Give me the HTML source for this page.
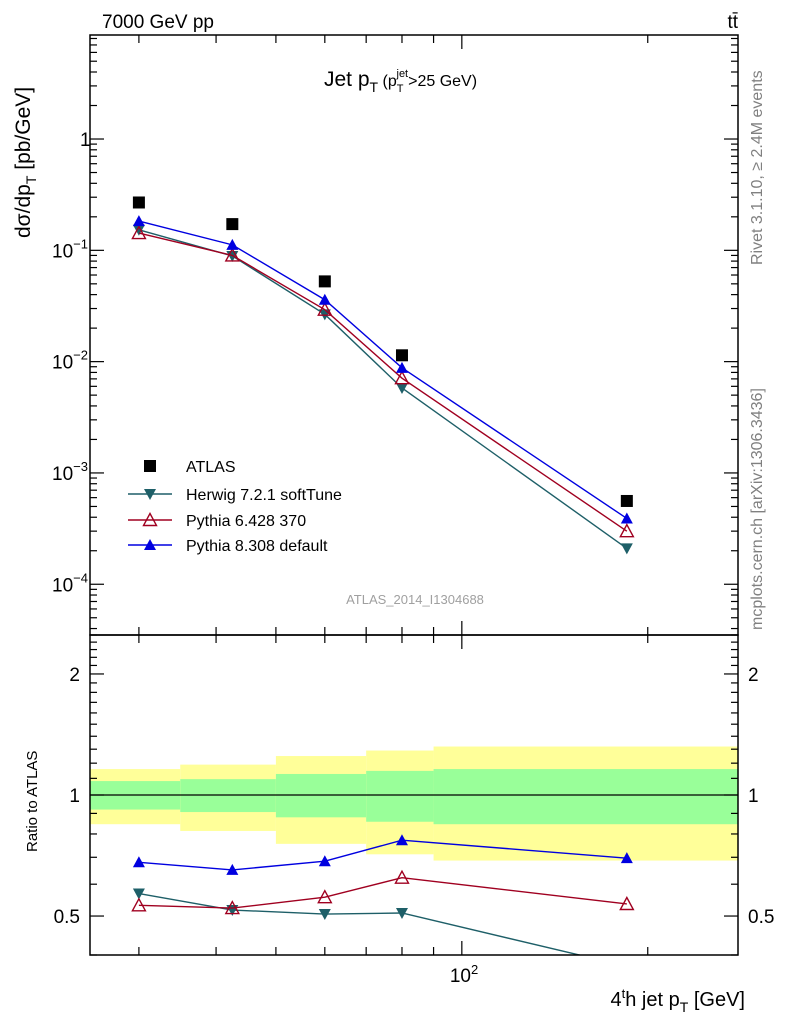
<!DOCTYPE html>
<html><head><meta charset="utf-8"><style>
html,body{margin:0;padding:0;background:#fff}
svg{display:block;font-family:"Liberation Sans",Arial,sans-serif}
</style></head><body>
<svg id="c" width="786" height="1024" viewBox="0 0 786 1024" xmlns="http://www.w3.org/2000/svg">
<g id="bands"></g>
<g id="grid"></g>
<g id="series"></g>
<rect x="90" y="35" width="648" height="600" fill="none" stroke="#000" stroke-width="1.5"/>
<rect x="90" y="635" width="648" height="320" fill="none" stroke="#000" stroke-width="1.5"/>
<text x="102" y="28" font-size="19">7000 GeV pp</text>
<text x="738" y="28" font-size="19" text-anchor="end">tt̄</text>
<text x="324" y="86" font-size="21">Jet p<tspan font-size="14" dy="6">T</tspan><tspan font-size="16" dy="-6"> (p</tspan><tspan font-size="11" dy="6">T</tspan><tspan font-size="11" dx="-7" dy="-15">jet</tspan><tspan font-size="16" dy="9">&gt;25 GeV)</tspan></text>
<text transform="translate(30,238) rotate(-90)" font-size="21">dσ/dp<tspan font-size="14" dy="6">T</tspan><tspan dy="-6"> [pb/GeV]</tspan></text>
<text transform="translate(37,852) rotate(-90)" font-size="15">Ratio to ATLAS</text>
<text x="745" y="1006" font-size="20" text-anchor="end">4<tspan font-size="13" dy="-8">t</tspan><tspan dy="8">h jet p</tspan><tspan font-size="14" dy="6">T</tspan><tspan dy="-6"> [GeV]</tspan></text>
<text transform="translate(762,265) rotate(-90)" font-size="16" fill="#808080">Rivet 3.1.10, ≥ 2.4M events</text>
<text transform="translate(762,630) rotate(-90)" font-size="16" fill="#808080">mcplots.cern.ch [arXiv:1306.3436]</text>
<text x="415" y="604" font-size="13" fill="#a0a0a0" text-anchor="middle">ATLAS_2014_I1304688</text>
<g id="legend"></g>
</svg>
<script>
const binEdges=[25,35,50,70,90,280];
const xCenters=[30,42.5,60,80,185];
const atlas=[0.269,0.172,0.0526,0.0114,0.00056];
const herwig=[0.153,0.089,0.0266,0.0058,0.00021];
const pythia6=[0.143,0.090,0.0293,0.0071,0.00030];
const pythia8=[0.183,0.112,0.036,0.0088,0.00039];
const statUp=[1.083,1.095,1.128,1.148,1.16];
const statDn=[0.92,0.907,0.88,0.858,0.846];
const totUp=[1.16,1.19,1.25,1.29,1.32];
const totDn=[0.846,0.814,0.756,0.712,0.687];
const mainTicks=[1,0.1,0.01,0.001,0.0001];
const mainTickLabels=[["1",""],["10","−1"],["10","−2"],["10","−3"],["10","−4"]];
const ratioTicks=[0.5,1,2];
const ratioTickLabels=["0.5","1","2"];

const NS="http://www.w3.org/2000/svg";
const X0=90,X1=738,xmin=25,xmax=280;
const sx=v=>X0+(X1-X0)*Math.log10(v/xmin)/Math.log10(xmax/xmin);
const MT=35,MB=635,ymax=8.6,ymin=3.5e-5;
const sy=v=>MT+(MB-MT)*Math.log10(ymax/v)/Math.log10(ymax/ymin);
const RT=635,RB=955,rmax=2.5,rmin=0.4;
const ry=v=>RT+(RB-RT)*Math.log10(rmax/v)/Math.log10(rmax/rmin);
function mk(tag,at,parent){const e=document.createElementNS(NS,tag);for(const k in at)e.setAttribute(k,at[k]);parent.appendChild(e);return e;}
const bands=document.getElementById('bands'),grid=document.getElementById('grid'),ser=document.getElementById('series'),leg=document.getElementById('legend');

for(let i=0;i<xCenters.length;i++){
  const xa=sx(binEdges[i]),xb=sx(binEdges[i+1]);
  let r=mk('rect',{x:xa,y:ry(totUp[i]),width:xb-xa,height:ry(totDn[i])-ry(totUp[i]),fill:'#ffff99'},bands);
  
  
  r=mk('rect',{x:xa,y:ry(statUp[i]),width:xb-xa,height:ry(statDn[i])-ry(statUp[i]),fill:'#99ff99'},bands);
  
  
}
mk('line',{x1:X0,x2:X1,y1:ry(1),y2:ry(1),stroke:'#000','stroke-width':1.2},grid);

const xt=[30,40,50,60,70,80,90,100,200];
xt.forEach(d=>{
  const x=sx(d),big=(d===100);
  const L=big?14:8;
  for(const [yb,yt] of [[MB,MT],[RB,RT]]){
    mk('line',{x1:x,x2:x,y1:yb,y2:yb-L,stroke:'#000','stroke-width':1.2},grid);
    mk('line',{x1:x,x2:x,y1:yt,y2:yt+L,stroke:'#000','stroke-width':1.2},grid);
  }
});
let t=mk('text',{x:sx(100)-12,y:982,'font-size':19},grid);
t.textContent='10';


t=mk('tspan',{'font-size':13,dy:-8},t);t.textContent='2';

for(let e=-5;e<=0;e++){
  for(let m=1;m<=9;m++){
    const v=m*Math.pow(10,e);
    if(v<ymin||v>ymax)continue;
    const y=sy(v),L=m===1?14:7;
    mk('line',{x1:X0,x2:X0+L,y1:y,y2:y,stroke:'#000','stroke-width':1.2},grid);
    mk('line',{x1:X1,x2:X1-L,y1:y,y2:y,stroke:'#000','stroke-width':1.2},grid);
  }
}
mainTicks.forEach((v,i)=>{
  const y=sy(v);
  const tt=mk('text',{x:i===0?80:52,y:y+7,'font-size':19,'text-anchor':'start'},grid);
  
  
  tt.textContent=mainTickLabels[i][0];
  if(mainTickLabels[i][1]){const s=mk('tspan',{'font-size':13,dy:-9},tt);s.textContent=mainTickLabels[i][1];}
});
for(let v=0.4;v<=2.5001;v+=0.1){
  const vv=Math.round(v*10)/10;
  const y=ry(vv),major=(vv===0.5||vv===1||vv===2);
  const L=major?14:7;
  mk('line',{x1:X0,x2:X0+L,y1:y,y2:y,stroke:'#000','stroke-width':1.2},grid);
  mk('line',{x1:X1,x2:X1-L,y1:y,y2:y,stroke:'#000','stroke-width':1.2},grid);
}
ratioTicks.forEach((v,i)=>{
  const y=ry(v)+7;
  let a=mk('text',{x:80,y:y,'font-size':19,'text-anchor':'end'},grid);
  a.textContent=ratioTickLabels[i];
  
  
  a=mk('text',{x:748,y:y,'font-size':19},grid);
  a.textContent=ratioTickLabels[i];
  
  
});

function marker(kind,x,y,col,parent){
  if(kind==='sq') return mk('rect',{x:x-6,y:y-6,width:12,height:12,fill:'#000'},parent);
  if(kind==='down') return mk('polygon',{points:`${x-6},${y-5} ${x+6},${y-5} ${x},${y+6}`,fill:col},parent);
  if(kind==='up') return mk('polygon',{points:`${x-6},${y+5} ${x+6},${y+5} ${x},${y-6}`,fill:col},parent);
  if(kind==='open') return mk('polygon',{points:`${x-6.5},${y+5.5} ${x+6.5},${y+5.5} ${x},${y-6.5}`,fill:'none',stroke:col,'stroke-width':1.4},parent);
}
const defs=[['herwig-7-2-1',herwig,'#1e5f68','down'],['pythia-6-428',pythia6,'#a00020','open'],['pythia-8-308',pythia8,'#0000e0','up']];
const cp=mk('clipPath',{id:'rc'},document.getElementById('c'));
mk('rect',{x:X0,y:RT,width:X1-X0,height:RB-RT},cp);
defs.forEach(([nm,arr,col,kind])=>{
  const g=mk('g',{},ser);
  
  
  mk('polyline',{points:arr.map((v,i)=>sx(xCenters[i])+','+sy(v)).join(' '),fill:'none',stroke:col,'stroke-width':1.4},g);
  arr.forEach((v,i)=>marker(kind,sx(xCenters[i]),sy(v),col,g));
  const gr=mk('g',{'clip-path':'url(#rc)'},ser);
  
  
  mk('polyline',{points:arr.map((v,i)=>sx(xCenters[i])+','+ry(v/atlas[i])).join(' '),fill:'none',stroke:col,'stroke-width':1.4},gr);
  arr.forEach((v,i)=>marker(kind,sx(xCenters[i]),ry(v/atlas[i]),col,gr));
});
const ga=mk('g',{},ser);


atlas.forEach((v,i)=>marker('sq',sx(xCenters[i]),sy(v),'#000',ga));

const legItems=[['ATLAS','sq','#000',466],['Herwig 7.2.1 softTune','down','#1e5f68',494],['Pythia 6.428 370','open','#a00020',520],['Pythia 8.308 default','up','#0000e0',545]];
legItems.forEach(([lab,kind,col,y])=>{
  const g=mk('g',{},leg);
  
  
  if(kind!=='sq') mk('line',{x1:128,x2:172,y1:y,y2:y,stroke:col,'stroke-width':1.4},g);
  marker(kind,150,y,col,g);
  const tx=mk('text',{x:186,y:y+6,'font-size':16},g);
  tx.textContent=lab;
});
</script>
</body></html>
